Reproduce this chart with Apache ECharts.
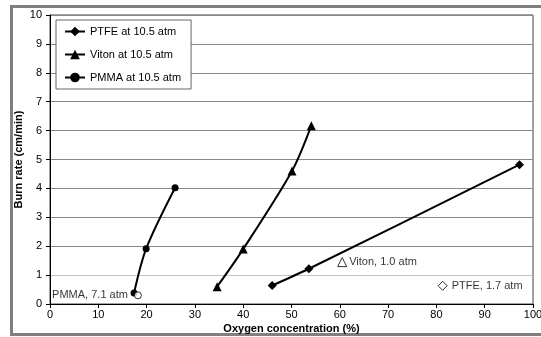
<!DOCTYPE html>
<html>
<head>
<meta charset="utf-8">
<script src="https://cdn.jsdelivr.net/npm/echarts@6/dist/echarts.min.js"></script>
<style>
  html, body { margin: 0; padding: 0; background: #fff; }
  #chart { width: 541px; height: 337px; }
</style>
</head>
<body>
<div id="chart"></div>
<script>
var seriesNames = ['PTFE at 10.5 atm', 'Viton at 10.5 atm', 'PMMA at 10.5 atm'];

var ptfeX = [46, 53.6, 97.2];
var ptfeY = [0.64, 1.22, 4.82];
var vitonX = [34.6, 40, 50.1, 54.1];
var vitonY = [0.6, 1.9, 4.6, 6.17];
var pmmaX = [17.4, 19.9, 25.9];
var pmmaY = [0.38, 1.91, 4.02];

// single low-pressure points (open markers)
var lowNames = ['PMMA, 7.1 atm', 'Viton, 1.0 atm', 'PTFE, 1.7 atm'];
var lowX = [18.2, 60.5, 81.3];
var lowY = [0.3, 1.45, 0.63];

var xTicks = [0, 100, 10];
var yTicks = [0, 10, 1];

function pairs(xs, ys) {
  return xs.map(function (x, i) { return [x, ys[i]]; });
}

var font = 'Liberation Sans, Arial, sans-serif';

function lineSeries(name, xs, ys, symbol, size) {
  return {
    name: name,
    type: 'line',
    data: pairs(xs, ys),
    smooth: 0.3,
    symbol: symbol,
    symbolSize: size,
    lineStyle: { color: '#000', width: 2 },
    itemStyle: { color: '#000' },
    z: 3
  };
}

function openPoint(i, symbol, size, pos, dist) {
  return {
    name: lowNames[i],
    type: 'scatter',
    data: [[lowX[i], lowY[i]]],
    symbol: symbol,
    symbolSize: size,
    itemStyle: { color: '#fff', borderColor: '#000', borderWidth: 1 },
    label: {
      show: true,
      position: pos,
      distance: dist,
      formatter: lowNames[i],
      color: '#000',
      fontSize: 11,
      fontFamily: font
    },
    z: 4
  };
}

// grid line at 1 is lighter in the original
var gridColors = ['#888', '#c4c4c4', '#888', '#888', '#888', '#888', '#888', '#888', '#888', '#888', '#888'];

var myChart = echarts.init(document.getElementById('chart'));
myChart.setOption({
  animation: false,
  backgroundColor: '#fff',
  textStyle: { fontFamily: font },
  graphic: [
    {
      type: 'rect',
      shape: { x: 11.5, y: 6.5, width: 560, height: 328 },
      style: { fill: 'none', stroke: '#808080', lineWidth: 3 },
      silent: true
    }
  ],
  legend: {
    data: seriesNames,
    orient: 'vertical',
    left: 56,
    top: 20,
    padding: [6, 10, 6, 8],
    itemGap: 12,
    itemWidth: 20,
    itemHeight: 12,
    backgroundColor: '#fff',
    borderColor: '#666',
    borderWidth: 1,
    textStyle: { color: '#000', fontSize: 11, fontFamily: font }
  },
  grid: {
    left: 50,
    right: 8,
    top: 15,
    bottom: 33,
    outerBoundsMode: 'none',
    show: true,
    borderColor: '#444',
    borderWidth: 1
  },
  xAxis: {
    type: 'value',
    min: xTicks[0],
    max: xTicks[1],
    interval: xTicks[2],
    name: 'Oxygen concentration (%)',
    nameLocation: 'middle',
    nameGap: 19,
    nameMoveOverlap: false,
    nameTextStyle: { color: '#000', fontSize: 11, fontWeight: 'bold', fontFamily: font },
    axisLine: { lineStyle: { color: '#000' } },
    axisTick: { show: true, length: 4, lineStyle: { color: '#000' } },
    axisLabel: { color: '#000', fontSize: 11, margin: 5 },
    splitLine: { show: false }
  },
  yAxis: {
    type: 'value',
    min: yTicks[0],
    max: yTicks[1],
    interval: yTicks[2],
    name: 'Burn rate (cm/min)',
    nameLocation: 'middle',
    nameGap: 26,
    nameMoveOverlap: false,
    nameTextStyle: { color: '#000', fontSize: 11, fontWeight: 'bold', fontFamily: font },
    axisLine: { show: true, lineStyle: { color: '#000' } },
    axisTick: { show: true, length: 4, lineStyle: { color: '#000' } },
    axisLabel: { color: '#000', fontSize: 11, margin: 8 },
    splitLine: { show: true, lineStyle: { color: gridColors, width: 1 } }
  },
  series: [
    lineSeries(seriesNames[0], ptfeX, ptfeY, 'diamond', 9),
    lineSeries(seriesNames[1], vitonX, vitonY, 'triangle', 9),
    lineSeries(seriesNames[2], pmmaX, pmmaY, 'circle', 7),
    openPoint(0, 'circle', 7, 'left', 6),
    openPoint(1, 'triangle', 9, 'right', 2),
    openPoint(2, 'diamond', 9, 'right', 4)
  ]
});
</script>
</body>
</html>
